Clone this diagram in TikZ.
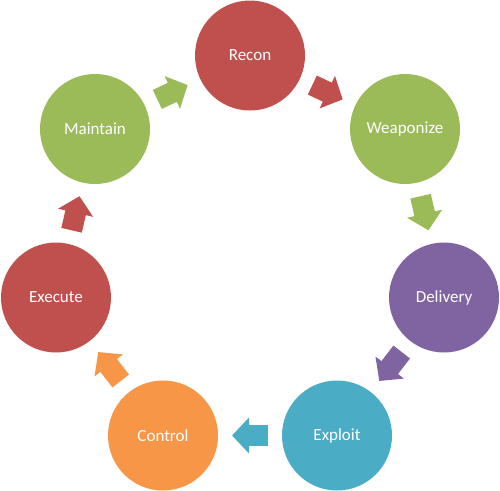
\documentclass[tikz,border=0pt]{standalone}
\usepackage{fontspec}
\setmainfont{Carlito}
\usetikzlibrary{arrows.meta}
\definecolor{cRed}{HTML}{C0504D}
\definecolor{cGreen}{HTML}{9BBB59}
\definecolor{cPurple}{HTML}{8064A2}
\definecolor{cBlue}{HTML}{4BACC6}
\definecolor{cOrange}{HTML}{F79646}
\tikzset{
  phase/.style={circle, fill=#1, minimum size=110pt, inner sep=0pt, outer sep=0pt,
    text=white, font=\fontsize{17}{20}\selectfont},
  flow/.style={#1, line width=21pt, shorten <=14pt, shorten >=14pt,
    -{Triangle[width=35pt,length=17pt]}}
}
\begin{document}
\begin{tikzpicture}[x=1pt,y=-1pt]
\useasboundingbox (0,0) rectangle (500,490);
% the seven phases
\node[phase=cRed] (recon) at (250,55.5) {Recon};
\node[phase=cGreen] (weaponize) at (405,129) {Weaponize};
\node[phase=cPurple] (delivery) at (444,297.5) {Delivery};
\node[phase=cBlue] (exploit) at (337,435.5) {Exploit};
\node[phase=cOrange] (control) at (163,435.5) {Control};
\node[phase=cRed] (execute) at (56,297.5) {Execute};
\node[phase=cGreen] (maintain) at (95,129) {Maintain};
% block arrows between them
\draw[flow=cRed] (recon) -- (weaponize);
\draw[flow=cGreen] (weaponize) -- (delivery);
\draw[flow=cPurple] (delivery) -- (exploit);
\draw[flow=cBlue] (exploit) -- (control);
\draw[flow=cOrange] (control) -- (execute);
\draw[flow=cRed] (execute) -- (maintain);
\draw[flow=cGreen] (maintain) -- (recon);
\end{tikzpicture}
\end{document}
